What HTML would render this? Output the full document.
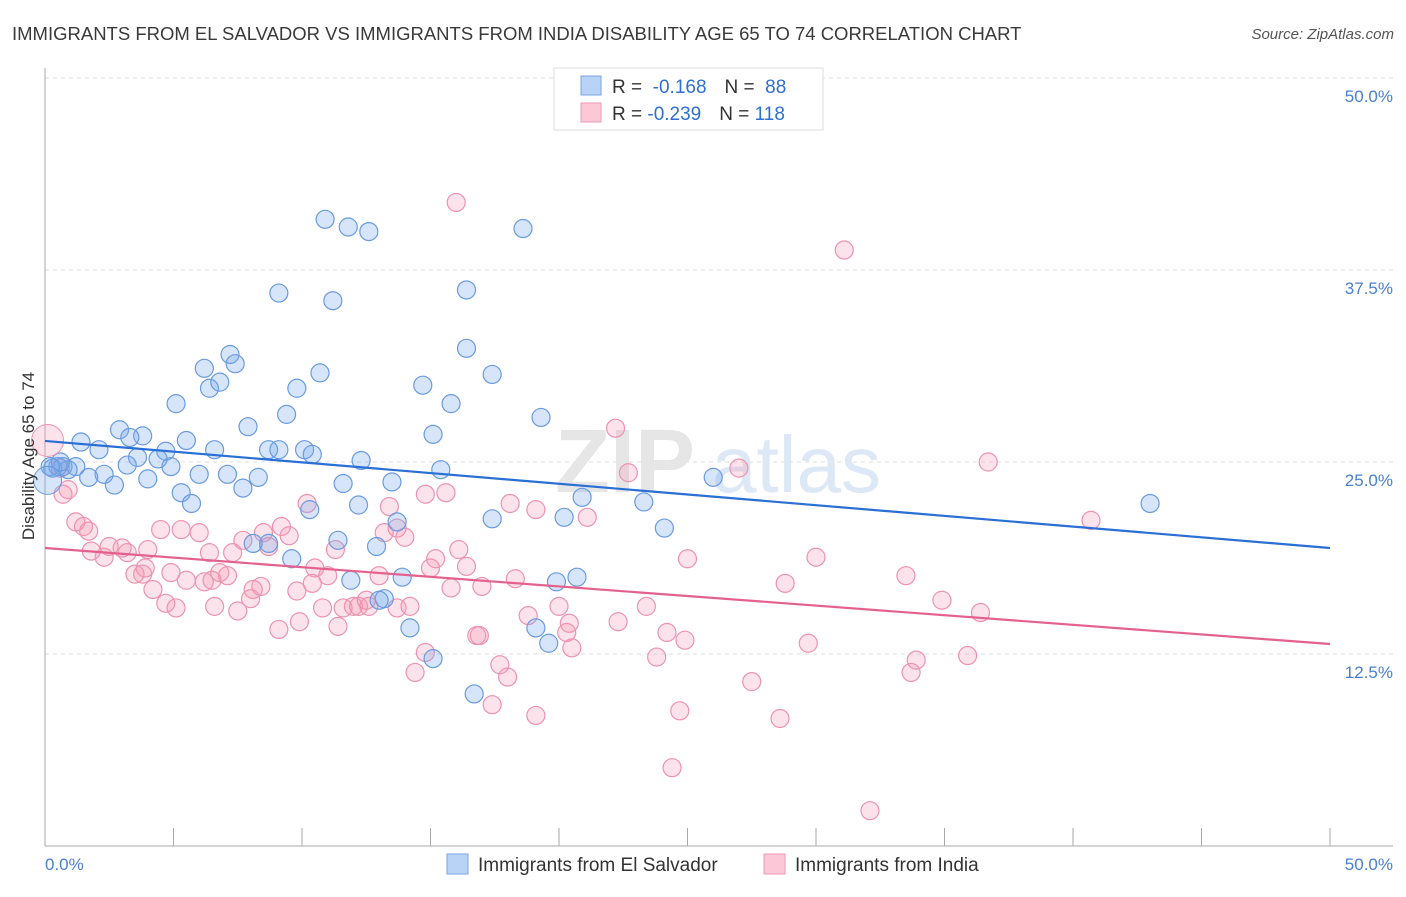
<!DOCTYPE html>
<html><head><meta charset="utf-8"><style>
body{margin:0;background:#fff;font-family:"Liberation Sans",sans-serif}
svg text{font-family:"Liberation Sans",sans-serif}
</style></head><body>
<svg id="chart" width="1406" height="892" viewBox="0 0 1406 892" xmlns="http://www.w3.org/2000/svg">
<text x="12" y="40" font-size="18.5" fill="#3a3a3a">IMMIGRANTS FROM EL SALVADOR VS IMMIGRANTS FROM INDIA DISABILITY AGE 65 TO 74 CORRELATION CHART</text>
<text x="1394" y="39" font-size="15" fill="#555" font-style="italic" text-anchor="end">Source: ZipAtlas.com</text>
<g id="grid"></g>
<text x="555" y="492" font-size="90" fill="#e6e6e6" font-family="Liberation Serif" font-weight="bold">ZIP</text>
<text x="712" y="492" font-size="80" fill="#dce8f5">atlas</text>
<g id="pts"></g>
<g id="lines"></g>
<text transform="translate(34,456) rotate(-90)" font-size="17" fill="#333" text-anchor="middle">Disability Age 65 to 74</text>
<g>
<rect x="554" y="68" width="269" height="62" fill="#fff" stroke="#ddd"/>
<rect x="581" y="76" width="20" height="19" fill="#b8d3f5" stroke="#7aa6e0"/>
<rect x="581" y="103" width="20" height="19" fill="#fbc8d8" stroke="#ec9ab5"/>
<text x="612" y="93" font-size="19" fill="#333">R = <tspan fill="#2f6fcf">&#160;-0.168</tspan><tspan dx="18">N = </tspan><tspan fill="#2f6fcf">&#160;88</tspan></text>
<text x="612" y="120" font-size="19" fill="#333">R = <tspan fill="#2f6fcf">-0.239</tspan><tspan dx="18">N = </tspan><tspan fill="#2f6fcf">118</tspan></text>
</g>
<g>
<rect x="447" y="854" width="21" height="20" fill="#b8d3f5" stroke="#7aa6e0"/>
<text x="478" y="871" font-size="19" fill="#333">Immigrants from El Salvador</text>
<rect x="764" y="854" width="21" height="20" fill="#fbc8d8" stroke="#ec9ab5"/>
<text x="795" y="871" font-size="19" fill="#333">Immigrants from India</text>
</g>
</svg>
<script>
const blueX=[10.9,11.8,12.6,18.6,9.1,11.2,16.4,16.4,7.2,7.4,6.2,10.7,17.4,6.4,6.8,9.8,14.7,5.1,15.8,9.4,19.3,7.9,2.9,3.8,3.3,5.5,1.4,15.1,2.1,6.6,8.7,9.1,10.1,10.4,4.7,3.6,4.4,4.9,3.2,0.7,1.2,0.9,0.3,0.5,2.3,1.7,2.7,4.0,6.0,7.1,8.3,12.3,15.4,11.6,13.5,7.7,5.3,5.7,12.2,26.0,20.9,23.3,43.0,10.3,17.4,20.2,24.1,13.7,11.4,8.7,12.9,8.1,9.6,11.9,13.9,19.9,20.7,13.2,13.0,14.2,19.1,19.6,15.1,16.7,0.6,0.2];
const blueY=[40.8,40.3,40.0,40.2,36.0,35.5,36.2,32.4,32.0,31.4,31.1,30.8,30.7,29.8,30.2,29.8,30.0,28.8,28.8,28.1,27.9,27.3,27.1,26.7,26.6,26.4,26.3,26.8,25.8,25.8,25.8,25.8,25.8,25.5,25.7,25.3,25.2,24.7,24.8,24.7,24.7,24.5,24.6,24.7,24.2,24.0,23.5,23.9,24.2,24.2,24.0,25.1,24.5,23.6,23.7,23.3,23.0,22.3,22.2,24.0,22.7,22.4,22.3,21.9,21.3,21.4,20.7,21.1,19.9,19.7,19.5,19.7,18.7,17.3,17.5,17.2,17.5,16.1,16.0,14.2,14.2,13.2,12.2,9.9,25.0,24.7];
const pinkX=[16.0,31.1,22.2,22.7,27.0,36.7,40.7,0.6,0.9,0.7,1.2,1.5,1.7,1.8,2.3,2.5,3.0,3.2,4.0,3.5,3.8,4.5,5.3,6.0,3.9,4.9,5.5,4.2,4.7,5.1,6.5,6.8,7.1,6.2,6.4,7.3,7.7,8.5,9.2,9.5,8.7,8.4,8.1,6.6,7.5,8.0,9.1,9.8,9.9,10.2,10.5,11.0,11.3,10.4,10.8,11.4,11.6,12.0,12.2,12.5,12.6,13.0,13.2,13.4,13.7,14.0,13.7,14.2,14.8,15.6,15.2,15.0,15.8,16.1,16.4,16.8,16.9,17.0,14.8,14.4,17.7,18.0,17.4,18.1,18.3,18.8,19.1,20.0,20.4,20.5,20.3,19.1,21.1,22.3,23.4,23.8,24.2,24.9,25.0,24.7,24.4,27.5,28.6,28.8,29.7,30.0,32.1,33.5,33.9,33.7,34.9,35.9,36.4];
const pinkY=[41.9,38.8,27.2,24.3,24.6,25.0,21.2,24.6,23.2,22.9,21.1,20.8,20.5,19.2,18.8,19.5,19.4,19.1,19.3,17.7,17.7,20.6,20.6,20.4,18.1,17.8,17.3,16.7,15.8,15.5,17.3,17.8,17.6,17.2,19.1,19.1,19.9,20.4,20.8,20.2,19.5,16.9,16.7,15.6,15.3,16.1,14.1,16.6,14.6,22.3,18.1,17.6,19.3,17.1,15.5,14.3,15.5,15.6,15.6,16.0,15.6,17.6,20.4,22.1,20.7,20.1,15.5,15.6,22.9,23.0,18.7,18.1,16.8,19.3,18.2,13.7,13.7,16.9,12.6,11.3,11.8,11.0,9.2,22.3,17.4,15.0,21.9,15.6,14.5,12.9,13.9,8.5,21.4,14.6,15.6,12.3,13.9,13.4,18.7,8.8,5.1,10.7,8.3,17.1,13.2,18.8,2.3,17.6,12.1,11.3,16.0,12.4,15.2];
const yTicks=[12.5,25.0,37.5,50.0];
const yTickLabels=["12.5%","25.0%","37.5%","50.0%"];
const xTicks=[0,5,10,15,20,25,30,35,40,45,50];
const blueTrend=[26.37,19.4];
const pinkTrend=[19.4,13.15];
const NS="http://www.w3.org/2000/svg";
const X0=45,X1=1330,YB=846,YT=78;
const sx=v=>X0+(v/50)*(X1-X0);
const sy=v=>YB-(v/50)*(YB-YT);
function mk(tag,attrs,parent){const e=document.createElementNS(NS,tag);for(const k in attrs)e.setAttribute(k,attrs[k]);parent.appendChild(e);return e;}
const grid=document.getElementById('grid');
yTicks.forEach((t,i)=>{
 const l=mk('line',{x1:X0,x2:1393,y1:sy(t),y2:sy(t),stroke:'#ddd','stroke-dasharray':'4,4'},grid);
 
 
 const tx=mk('text',{x:1393,y:sy(t)+24,'font-size':17,fill:'#4a80d0','text-anchor':'end'},grid);
 tx.textContent=yTickLabels[i];
 
 
});
const ya=mk('line',{x1:X0,x2:X0,y1:68,y2:YB,stroke:'#aaa'},grid);


const xa=mk('line',{x1:X0,x2:1393,y1:YB,y2:YB,stroke:'#aaa'},grid);


xTicks.forEach(t=>{
 const l=mk('line',{x1:sx(t),x2:sx(t),y1:YB,y2:YB-(t===0?0:0)+0,stroke:'#aaa'},grid);
 l.setAttribute('y1',YB-18);l.setAttribute('y2',YB);
 
 
});
const xl0=mk('text',{x:X0,y:870,'font-size':17,fill:'#4a80d0'},grid);xl0.textContent='0.0%';


const xl1=mk('text',{x:1393,y:870,'font-size':17,fill:'#4a80d0','text-anchor':'end'},grid);xl1.textContent='50.0%';


const pts=document.getElementById('pts');
pinkX.forEach((x,i)=>{
 const c=mk('circle',{cx:sx(x),cy:sy(pinkY[i]),r:9,fill:'rgba(244,150,180,0.28)',stroke:'#ec93b0','stroke-width':1.2},pts);
 
 
});
blueX.forEach((x,i)=>{
 const c=mk('circle',{cx:sx(x),cy:sy(blueY[i]),r:9,fill:'rgba(120,170,235,0.3)',stroke:'#6a9be0','stroke-width':1.2},pts);
 
 
});
const bigP=mk('circle',{cx:sx(0.1),cy:sy(26.4),r:16,fill:'rgba(244,150,180,0.28)',stroke:'#ec93b0'},pts);


const bigB=mk('circle',{cx:sx(0.1),cy:sy(23.8),r:14,fill:'rgba(120,170,235,0.3)',stroke:'#6a9be0'},pts);


const lines=document.getElementById('lines');
const bl=mk('line',{x1:sx(0),y1:sy(blueTrend[0]),x2:sx(50),y2:sy(blueTrend[1]),stroke:'#2a6fd6','stroke-width':2.2},lines);


const pl=mk('line',{x1:sx(0),y1:sy(pinkTrend[0]),x2:sx(50),y2:sy(pinkTrend[1]),stroke:'#e4618d','stroke-width':2.2},lines);


</script>
</body></html>
